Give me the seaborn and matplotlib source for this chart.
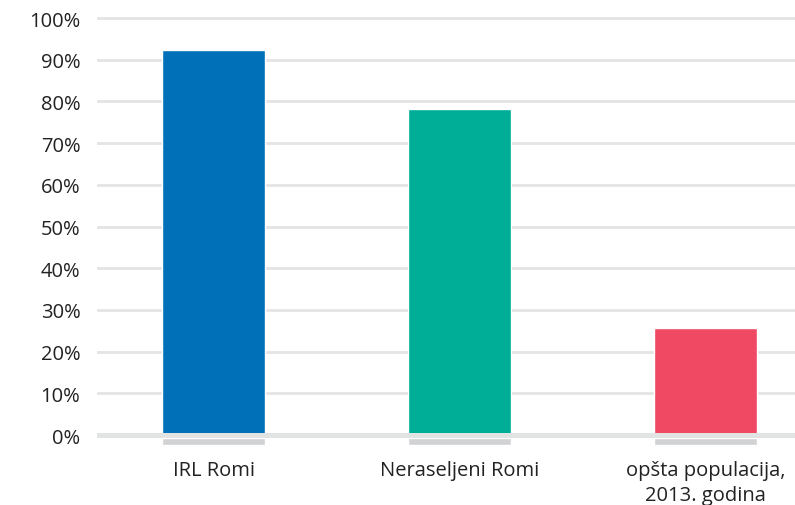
import numpy as np
import pandas as pd
import matplotlib
matplotlib.use("Agg")
import matplotlib.pyplot as plt
import seaborn as sns

# --- data ---
categories = ["IRL Romi", "Neraseljeni Romi", "opšta populacija,\n2013. godina"]
values = [92.3, 78.2, 25.7]
bar_colors = ["#0070b8", "#00ae98", "#ef4963"]
y_ticks = list(range(0, 101, 10))
y_tick_labels = [f"{t}%" for t in y_ticks]

sns.set_theme(style="white")
plt.rcParams["font.family"] = ["Open Sans", "DejaVu Sans"]

df = pd.DataFrame({"group": categories, "share": values})

fig = plt.figure(figsize=(7.95, 5.06), dpi=100)
ax = fig.add_axes([97 / 795, 0.1136, 1 - 97 / 795, 0.857])

sns.barplot(data=df, x="group", y="share", hue="group", palette=bar_colors,
            width=0.42, saturation=1, legend=False, ax=ax, zorder=2)

# grey pads under each bar
ax.bar(np.arange(len(categories)), height=-1.75, bottom=-0.65, width=0.42,
       color="#d1d2d4", zorder=2)

# gridlines and thicker baseline
for t in y_ticks[1:]:
    ax.axhline(t, color="#e4e4e4", lw=2.0, zorder=1)
ax.axhline(0, color="#e2e3e3", lw=3.6, zorder=3)

ax.set_ylim(-3, 101)
ax.set_xlim(-0.474, 2.364)
ax.set_yticks(y_ticks)
ax.set_yticklabels(y_tick_labels)
ax.set_xlabel("")
ax.set_ylabel("")
ax.tick_params(axis="y", length=0, pad=12, labelsize=14.5, labelcolor="#222222")
ax.tick_params(axis="x", length=0, pad=9, labelsize=14.5, labelcolor="#222222")
for lbl in ax.get_yticklabels():
    lbl.set_ha("right")
for lbl in ax.get_xticklabels():
    lbl.set_linespacing(1.3)
sns.despine(ax=ax, left=True, bottom=True)

fig.savefig("out.png", dpi=100)
